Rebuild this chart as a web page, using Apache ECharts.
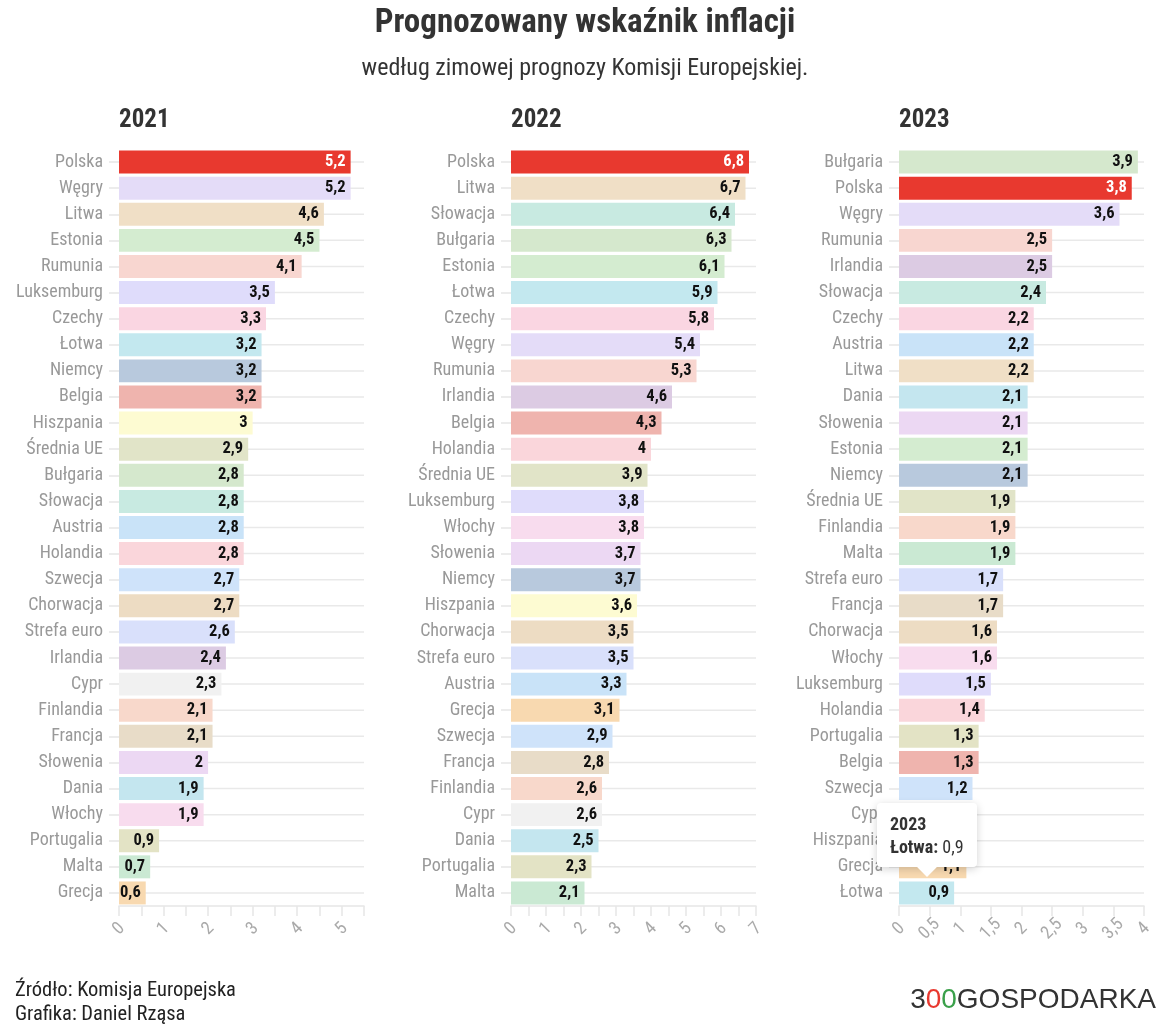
<!DOCTYPE html>
<html><head><meta charset="utf-8">
<script src="https://cdn.jsdelivr.net/npm/echarts@6/dist/echarts.min.js"></script>
<style>html,body{margin:0;padding:0;background:#fff;}#c{width:1170px;height:1024px;position:relative;}</style>
</head><body><div id="c"></div>
<script>
const years = ['2021', '2022', '2023'];

const cats2021 = ['Polska','Węgry','Litwa','Estonia','Rumunia','Luksemburg','Czechy','Łotwa','Niemcy','Belgia','Hiszpania','Średnia UE','Bułgaria','Słowacja','Austria','Holandia','Szwecja','Chorwacja','Strefa euro','Irlandia','Cypr','Finlandia','Francja','Słowenia','Dania','Włochy','Portugalia','Malta','Grecja'];
const vals2021 = [5.2,5.2,4.6,4.5,4.1,3.5,3.3,3.2,3.2,3.2,3,2.9,2.8,2.8,2.8,2.8,2.7,2.7,2.6,2.4,2.3,2.1,2.1,2,1.9,1.9,0.9,0.7,0.6];

const cats2022 = ['Polska','Litwa','Słowacja','Bułgaria','Estonia','Łotwa','Czechy','Węgry','Rumunia','Irlandia','Belgia','Holandia','Średnia UE','Luksemburg','Włochy','Słowenia','Niemcy','Hiszpania','Chorwacja','Strefa euro','Austria','Grecja','Szwecja','Francja','Finlandia','Cypr','Dania','Portugalia','Malta'];
const vals2022 = [6.8,6.7,6.4,6.3,6.1,5.9,5.8,5.4,5.3,4.6,4.3,4,3.9,3.8,3.8,3.7,3.7,3.6,3.5,3.5,3.3,3.1,2.9,2.8,2.6,2.6,2.5,2.3,2.1];

const cats2023 = ['Bułgaria','Polska','Węgry','Rumunia','Irlandia','Słowacja','Czechy','Austria','Litwa','Dania','Słowenia','Estonia','Niemcy','Średnia UE','Finlandia','Malta','Strefa euro','Francja','Chorwacja','Włochy','Luksemburg','Holandia','Portugalia','Belgia','Szwecja','Cypr','Hiszpania','Grecja','Łotwa'];
const vals2023 = [3.9,3.8,3.6,2.5,2.5,2.4,2.2,2.2,2.2,2.1,2.1,2.1,2.1,1.9,1.9,1.9,1.7,1.7,1.6,1.6,1.5,1.4,1.3,1.3,1.2,1.2,1.1,1.1,0.9];

const axisMax = [5.5, 7, 4];
const axisInterval = [0.5, 0.5, 0.5];

const countryColors = {
  'Polska':'#e8392f','Węgry':'#e4dcf8','Litwa':'#f0dfc6','Estonia':'#d4ecd0','Rumunia':'#f8d6d0',
  'Luksemburg':'#dfdcfb','Czechy':'#fad6e2','Łotwa':'#c3e8ef','Niemcy':'#b8c9dd','Belgia':'#efb4ae',
  'Hiszpania':'#fdfbd2','Średnia UE':'#e1e4c8','Bułgaria':'#d5e8cd','Słowacja':'#c8eae1','Austria':'#c9e3f8',
  'Holandia':'#fad6db','Szwecja':'#cfe3fa','Chorwacja':'#eddcc3','Strefa euro':'#d9e0fb','Irlandia':'#dccbe3',
  'Cypr':'#f1f1f1','Finlandia':'#f8d8cb','Francja':'#e8dcc8','Słowenia':'#ecd8f3','Dania':'#c4e6ef',
  'Włochy':'#f8dcee','Portugalia':'#e3e3c5','Malta':'#cae9d3','Grecja':'#f8d9b0'
};

const cats = [cats2021, cats2022, cats2023];
const vals = [vals2021, vals2022, vals2023];

const FONT = "'Roboto Condensed','Liberation Sans Narrow','Arial Narrow','DejaVu Sans Condensed',Roboto,sans-serif";
const fmt = v => String(v).replace('.', ',');

const gridLefts = [119, 511, 899];
const grids = gridLefts.map(l => ({left: l, width: 245, top: 149, height: 757, containLabel: false}));

const xAxes = years.map((y, i) => ({
  type: 'value', gridIndex: i, min: 0, max: axisMax[i], interval: axisInterval[i],
  axisLine: {show: true, lineStyle: {color: '#e6e6e6', width: 1.5}},
  axisTick: {show: true, length: 10, lineStyle: {color: '#e6e6e6', width: 1.5}},
  splitLine: {show: false},
  axisLabel: {
    rotate: 45, align: 'center', verticalAlign: 'middle', color: '#aaa', fontSize: 18, fontFamily: FONT, margin: 23,
    formatter: v => {
      if (i === 2) return fmt(v);
      if (Math.abs(v - Math.round(v)) > 1e-9) return '';
      return String(v);
    }
  }
}));

const yAxes = years.map((y, i) => ({
  type: 'category', gridIndex: i, inverse: true, data: cats[i],
  axisLine: {show: false},
  axisTick: {show: true, alignWithLabel: true, length: 10, lineStyle: {color: '#e6e6e6', width: 1.5}},
  axisLabel: {color: '#999', fontSize: 18, fontFamily: FONT, margin: 16, interval: 0}
}));

const barSeries = years.map((y, i) => ({
  name: y, type: 'bar', xAxisIndex: i, yAxisIndex: i, z: 3,
  barCategoryGap: '12%',
  data: vals[i].map((v, k) => ({
    value: v,
    itemStyle: {color: countryColors[cats[i][k]]},
    label: {color: cats[i][k] === 'Polska' ? '#fff' : '#111'}
  })),
  label: {show: true, position: 'insideRight', distance: 5, fontWeight: 'bold', fontSize: 16.5, fontFamily: FONT, formatter: p => fmt(p.value)},
  emphasis: {disabled: true}
}));

const gridSeries = years.map((y, i) => ({
  type: 'custom', xAxisIndex: i, yAxisIndex: i, z: 1, silent: true, tooltip: {show: false},
  data: cats[i].map((c, k) => [0, k]),
  encode: {x: 0, y: 1},
  renderItem: (params, api) => {
    const yy = api.coord([0, api.value(1)])[1];
    const cs = params.coordSys;
    return {type: 'line', shape: {x1: cs.x, y1: yy, x2: cs.x + cs.width, y2: yy}, style: {stroke: '#e9e9e9', lineWidth: 1.5}};
  }
}));

const titles = [
  {text: 'Prognozowany wskaźnik inflacji', left: 'center', top: 2, textStyle: {fontSize: 33, fontWeight: 'bold', color: '#333', fontFamily: FONT}},
  {text: 'według zimowej prognozy Komisji Europejskiej.', left: 'center', top: 52, textStyle: {fontSize: 24, fontWeight: 'normal', color: '#333', fontFamily: FONT}}
].concat(years.map((y, i) => ({text: y, left: gridLefts[i] - 5, top: 103, textStyle: {fontSize: 25, fontWeight: 'bold', color: '#333', fontFamily: FONT}})));

const option = {
  animation: false,
  backgroundColor: '#fff',
  title: titles,
  grid: grids,
  xAxis: xAxes,
  yAxis: yAxes,
  tooltip: {
    trigger: 'item', alwaysShowContent: true, backgroundColor: '#fff', borderWidth: 0,
    padding: [9, 13], transitionDuration: 0,
    extraCssText: 'box-shadow:0 2px 8px rgba(0,0,0,0.18);border-radius:4px;',
    textStyle: {fontFamily: FONT, fontSize: 18, color: '#333'},
    formatter: p => '<div style="font-weight:bold;line-height:23px">' + p.seriesName + '</div>' +
      '<div style="line-height:23px"><b>' + p.name + ':</b> ' + fmt(p.value) + '</div>' +
      '<div style="position:absolute;left:50%;bottom:-7px;margin-left:-7px;width:14px;height:14px;background:#fff;transform:rotate(45deg);"></div>',
    position: (point, params, dom, rect, size) => {
      const w = size.contentSize[0], h = size.contentSize[1];
      if (rect) return [rect.x + rect.width / 2 - w / 2, rect.y - h - 14];
      return [point[0] - w / 2, point[1] - h - 25];
    }
  },
  graphic: [
    {type: 'text', left: 15, top: 979, style: {text: 'Źródło: Komisja Europejska\nGrafika: Daniel Rząsa', fill: '#222', font: '20.5px ' + FONT, lineHeight: 24}},
    {type: 'text', right: 14, top: 986, style: {
      text: '{a|3}{r|0}{g|0}{a|GOSPODARKA}',
      rich: {
        a: {fill: '#333', fontSize: 28, fontFamily: "'Liberation Sans',Arial,sans-serif"},
        r: {fill: '#e8392f', fontSize: 28, fontFamily: "'Liberation Sans',Arial,sans-serif"},
        g: {fill: '#3aa04a', fontSize: 28, fontFamily: "'Liberation Sans',Arial,sans-serif"}
      }
    }}
  ],
  series: barSeries.concat(gridSeries)
};

const chart = echarts.init(document.getElementById('c'));
chart.setOption(option);
const showTip = () => chart.dispatchAction({type: 'showTip', seriesIndex: 2, dataIndex: cats2023.indexOf('Łotwa')});
showTip();
setTimeout(showTip, 50);
</script>
</body></html>
